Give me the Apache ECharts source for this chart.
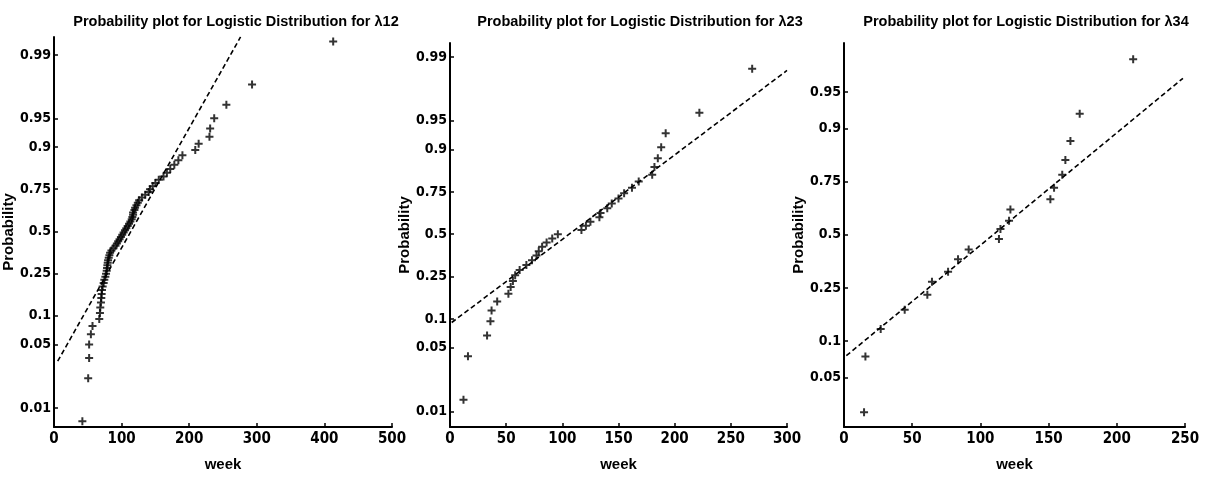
<!DOCTYPE html>
<html>
<head>
<meta charset="utf-8">
<script src="https://cdn.jsdelivr.net/npm/echarts@6/dist/echarts.min.js"></script>
<style>
html,body{margin:0;padding:0;background:#fff;}
#c{width:1210px;height:477px;}
</style>
</head>
<body>
<div id="c"></div>
<script>
// ---------- data ----------
const titles = [
  'Probability plot for Logistic Distribution for \u03bb12',
  'Probability plot for Logistic Distribution for \u03bb23',
  'Probability plot for Logistic Distribution for \u03bb34'
];
const xTicks1 = [0, 100, 200, 300, 400, 500];
const xTicks2 = [0, 50, 100, 150, 200, 250, 300];
const xTicks3 = [0, 50, 100, 150, 200, 250];
const yTickLabels12 = ['0.01', '0.05', '0.1', '0.25', '0.5', '0.75', '0.9', '0.95', '0.99'];
const yTickLabels3 = ['0.05', '0.1', '0.25', '0.5', '0.75', '0.9', '0.95'];

// panel 1 (lambda12): week, probability
const weeks1 = [42, 50.6, 52, 52, 54.6, 57, 67, 68, 68.5, 69.5, 70, 70.5, 71, 72, 73.5, 74.5, 76, 77, 78, 78.5,
  79, 79.5, 80, 81, 82, 83, 85, 88, 91, 93, 95, 97, 99, 101, 103, 105, 107, 109, 111, 113,
  115, 116, 117, 117, 119, 120, 122, 124, 126, 130, 135, 140, 142, 146, 150, 155, 162, 167, 172, 178,
  184, 190, 209, 214, 230, 231, 237, 255, 293, 413];
const probs1 = [0.0071, 0.0214, 0.0357, 0.05, 0.0643, 0.0786, 0.0929, 0.1071, 0.1214, 0.1357, 0.15, 0.1643, 0.1786, 0.1929, 0.2071, 0.2214, 0.2357, 0.25, 0.2643, 0.2786,
  0.2929, 0.3071, 0.3214, 0.3357, 0.35, 0.3643, 0.3786, 0.3929, 0.4071, 0.4214, 0.4357, 0.45, 0.4643, 0.4786, 0.4929, 0.5071, 0.5214, 0.5357, 0.55, 0.5643,
  0.5786, 0.5929, 0.6071, 0.6214, 0.6357, 0.65, 0.6643, 0.6786, 0.6929, 0.7071, 0.7214, 0.7357, 0.75, 0.7643, 0.7786, 0.7929, 0.8071, 0.8214, 0.8357, 0.85,
  0.8643, 0.8786, 0.8929, 0.9071, 0.9214, 0.9357, 0.95, 0.9643, 0.9786, 0.9929];
const fitWeeks1 = [5.5, 276];
const fitProbs1 = [0.033, 0.9937];

// panel 2 (lambda23)
const weeks2 = [12, 16, 33, 36, 37, 42, 52, 54, 56, 58, 62, 68, 73, 77, 79, 82, 86, 91, 96, 117,
  121, 125, 133, 134, 140, 144, 150, 155, 162, 168, 180, 182, 185, 188, 192, 222, 269];
const probs2 = [0.0135, 0.0405, 0.0676, 0.0946, 0.1216, 0.1486, 0.1757, 0.2027, 0.2297, 0.2568, 0.2838, 0.3108, 0.3378, 0.3649, 0.3919, 0.4189, 0.4459, 0.473, 0.5, 0.527,
  0.554, 0.581, 0.608, 0.635, 0.662, 0.689, 0.716, 0.743, 0.77, 0.797, 0.824, 0.851, 0.878, 0.905, 0.932, 0.959, 0.9865];
const fitWeeks2 = [1.5, 300];
const fitProbs2 = [0.092, 0.9859];

// panel 3 (lambda34)
const weeks3 = [14.7, 15.7, 26.9, 44.5, 61.1, 64.5, 76.3, 83.6, 91.4, 113.6, 114.7, 121, 122, 151.3, 154, 160, 162.3, 166, 172.8, 212];
const probs3 = [0.025, 0.075, 0.125, 0.175, 0.225, 0.275, 0.318, 0.376, 0.425, 0.478, 0.53, 0.572, 0.627, 0.675, 0.725, 0.775, 0.824, 0.874, 0.924, 0.974];
const fitWeeks3 = [1.7, 248.5];
const fitProbs3 = [0.076, 0.962];

// ---------- helpers ----------
const logit = p => Math.log(p / (1 - p));
const pts = (ws, ps) => ws.map((w, i) => [w, logit(ps[i])]);

const FONT = "'Liberation Sans Narrow', 'DejaVu Sans Condensed', 'Liberation Sans', sans-serif";
const TFONT = "'Liberation Sans', Arial, sans-serif";
const plusPath = 'path://M3,0H5V3H8V5H5V8H3V5H0V3H3Z';

const grids = [
  {left: 53, top: 37, width: 339, height: 393},
  {left: 450, top: 43, width: 337, height: 390},
  {left: 844, top: 43, width: 341, height: 391}
];
const yRanges = [[-5.09, 5.06], [-5.0, 4.96], [-3.97, 3.96]];
const xConf = [[xTicks1, 100], [xTicks2, 50], [xTicks3, 50]];
const yLabs = [yTickLabels12, yTickLabels12, yTickLabels3];
const titleCenters = [231, 635, 1021];
const nameGaps = [30, 24, 26];

function yAxisFor(i) {
  const labs = yLabs[i];
  const vals = labs.map(s => logit(parseFloat(s)));
  return {
    type: 'value', gridIndex: i, min: yRanges[i][0], max: yRanges[i][1],
    name: 'Probability', nameLocation: 'middle', nameRotate: 90, nameGap: nameGaps[i],
    nameTextStyle: {fontFamily: TFONT, fontWeight: 'bold', fontSize: 15, color: '#000'},
    axisLine: {show: true, lineStyle: {color: '#000', width: 2}},
    axisTick: {show: true, inside: true, length: 4, customValues: vals, lineStyle: {color: '#000', width: 1.5}},
    axisLabel: {
      customValues: vals, margin: 3, color: '#000', fontFamily: FONT, fontWeight: 'bold', fontSize: 14,
      formatter: v => {
        let best = 0, bd = 1e9;
        vals.forEach((t, k) => { const d = Math.abs(t - v); if (d < bd) { bd = d; best = k; } });
        return labs[best];
      }
    },
    splitLine: {show: false}
  };
}
function xAxisFor(i) {
  const ticks = xConf[i][0];
  return {
    type: 'value', gridIndex: i, min: ticks[0], max: ticks[ticks.length - 1], interval: xConf[i][1],
    name: 'week', nameLocation: 'middle', nameGap: 30,
    nameTextStyle: {fontFamily: TFONT, fontWeight: 'bold', fontSize: 15, color: '#000'},
    axisLine: {show: true, onZero: false, lineStyle: {color: '#000', width: 2}},
    axisTick: {show: true, inside: true, length: 4, lineStyle: {color: '#000', width: 1.5}},
    axisLabel: {color: '#000', fontFamily: FONT, fontWeight: 'bold', fontSize: 15, margin: 5},
    splitLine: {show: false}
  };
}

const scatterData = [pts(weeks1, probs1), pts(weeks2, probs2), pts(weeks3, probs3)];
const fitData = [pts(fitWeeks1, fitProbs1), pts(fitWeeks2, fitProbs2), pts(fitWeeks3, fitProbs3)];

const series = [];
for (let i = 0; i < 3; i++) {
  series.push({
    type: 'line', xAxisIndex: i, yAxisIndex: i, data: fitData[i], symbol: 'none', silent: true,
    lineStyle: {color: '#000', width: 1.6, type: [5, 3]}, clip: true, z: 2
  });
  series.push({
    type: 'scatter', xAxisIndex: i, yAxisIndex: i, data: scatterData[i], symbol: plusPath, symbolSize: 8,
    itemStyle: {color: '#000'}, z: 3
  });
}

const chart = echarts.init(document.getElementById('c'), null, {renderer: 'canvas'});
chart.setOption({
  animation: false,
  backgroundColor: '#fff',
  title: titles.map((t, i) => ({
    text: t, left: titleCenters[i], top: 9, textAlign: 'center',
    textStyle: {fontFamily: TFONT, fontWeight: 'bold', fontSize: 14.5, color: '#000'}
  })),
  grid: grids,
  xAxis: [0, 1, 2].map(xAxisFor),
  yAxis: [0, 1, 2].map(yAxisFor),
  series: series
});
</script>
</body>
</html>
